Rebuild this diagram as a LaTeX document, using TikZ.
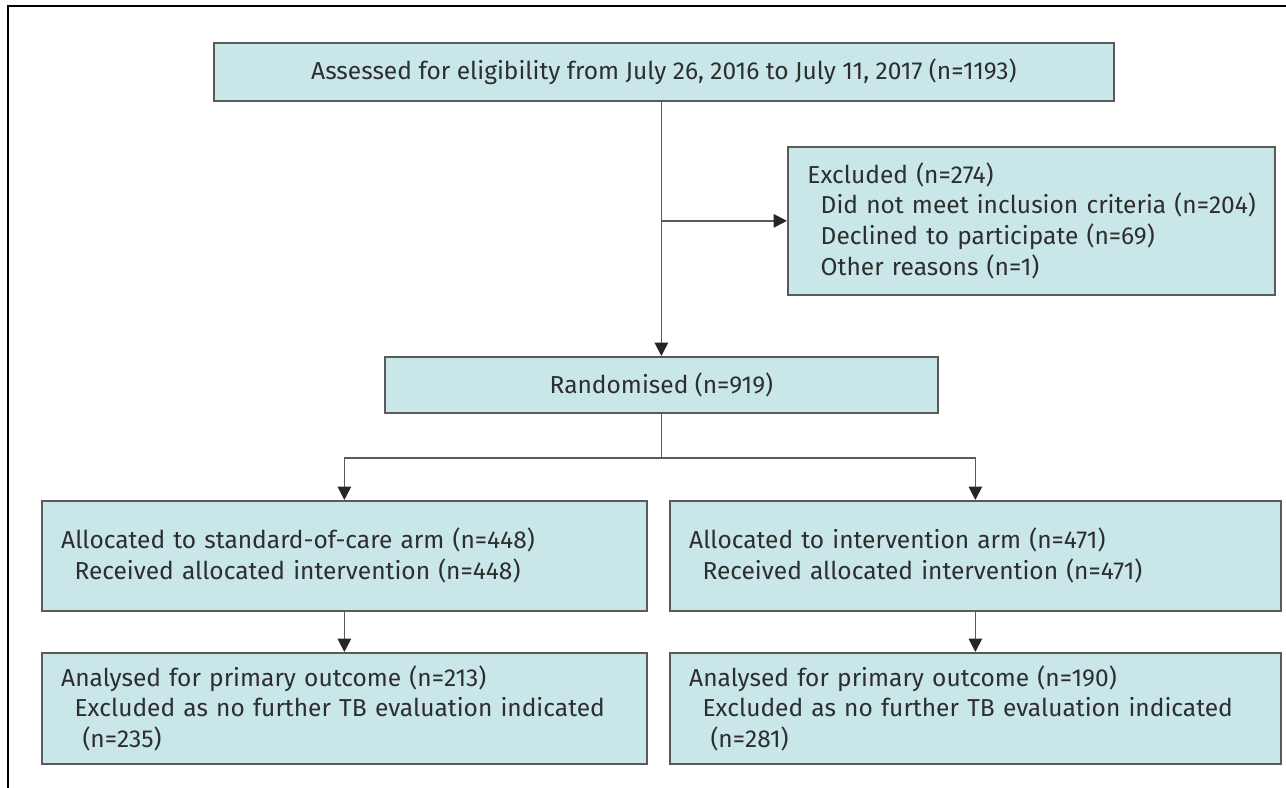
\documentclass[tikz,border=0pt]{standalone}
\usepackage{fontspec}
\setmainfont{Fira Sans}
\usetikzlibrary{arrows.meta, positioning}
\definecolor{boxfill}{HTML}{C9E7E9}
\definecolor{boxline}{HTML}{5A5A5A}
\definecolor{textgray}{HTML}{2E2E2E}
\tikzset{
	flowbox/.style={
			shape=rectangle,
			draw=boxline,
			fill=boxfill,
			line width=1.3pt,
			text=textgray,
			font=\fontsize{18.4}{23.2}\selectfont,
			anchor=north west,
			inner sep=0pt
		},
	listbox/.style={
			flowbox,
			align=left,
			inner xsep=14.5pt
		},
	flowline/.style={
			draw=boxline,
			line width=1.3pt
		},
	flowarrow/.style={
			flowline,
			-{Triangle[length=10pt,width=10pt,color=black!85]}
		}
}
\newcommand{\subline}[1]{\mbox{\hspace*{10pt}#1}}

\begin{document}
\begin{tikzpicture}[x=0.75pt, y=-0.75pt]

  \useasboundingbox (0,0) rectangle (1286,788);
  \draw[line width=1.6pt] (8,788) -- (8,6) -- (1286,6);

  \node[flowbox, minimum width=675pt, minimum height=43.5pt] (assess) at (213,42)
    {Assessed for eligibility from July 26, 2016 to July 11, 2017 (n=1193)};

  \node[listbox, minimum width=365.25pt, text width=336pt, minimum height=111pt] (excl) at (787,146)
    {Excluded (n=274)\\
     \subline{Did not meet inclusion criteria (n=204)}\\
     \subline{Declined to participate (n=69)}\\
     \subline{Other reasons (n=1)}};

  \node[flowbox, minimum width=414.75pt, minimum height=42pt] (rand) at (384,356)
    {Randomised (n=919)};

  \node[listbox, minimum width=453.75pt, text width=424.75pt, minimum height=82.5pt] (soc) at (41,500)
    {Allocated to standard-of-care arm (n=448)\\
     \subline{Received allocated intervention (n=448)}};
  \node[listbox, minimum width=458.25pt, text width=429.25pt, minimum height=82.5pt] (intv) at (669,500)
    {Allocated to intervention arm (n=471)\\
     \subline{Received allocated intervention (n=471)}};

  \node[listbox, minimum width=453.75pt, text width=424.75pt, minimum height=83.25pt] (socout) at (41,652)
    {Analysed for primary outcome (n=213)\\
     \subline{Excluded as no further TB evaluation indicated}\\
     \hspace*{16pt}(n=235)};
  \node[listbox, minimum width=458.25pt, text width=429.25pt, minimum height=83.25pt] (intvout) at (669,652)
    {Analysed for primary outcome (n=190)\\
     \subline{Excluded as no further TB evaluation indicated}\\
     \hspace*{16pt}(n=281)};

  \draw[flowarrow] (assess.south -| rand.north) -- (rand.north);
  \draw[flowarrow] (rand.north |- excl.west) -- (excl.west);
  \draw[flowline] (rand.south) -- ++(0,44) coordinate (split);
  \draw[flowarrow] (split) -| (soc.north);
  \draw[flowarrow] (split) -| (intv.north);
  \draw[flowarrow] (soc.south) -- (socout.north);
  \draw[flowarrow] (intv.south) -- (intvout.north);

\end{tikzpicture}
\end{document}
